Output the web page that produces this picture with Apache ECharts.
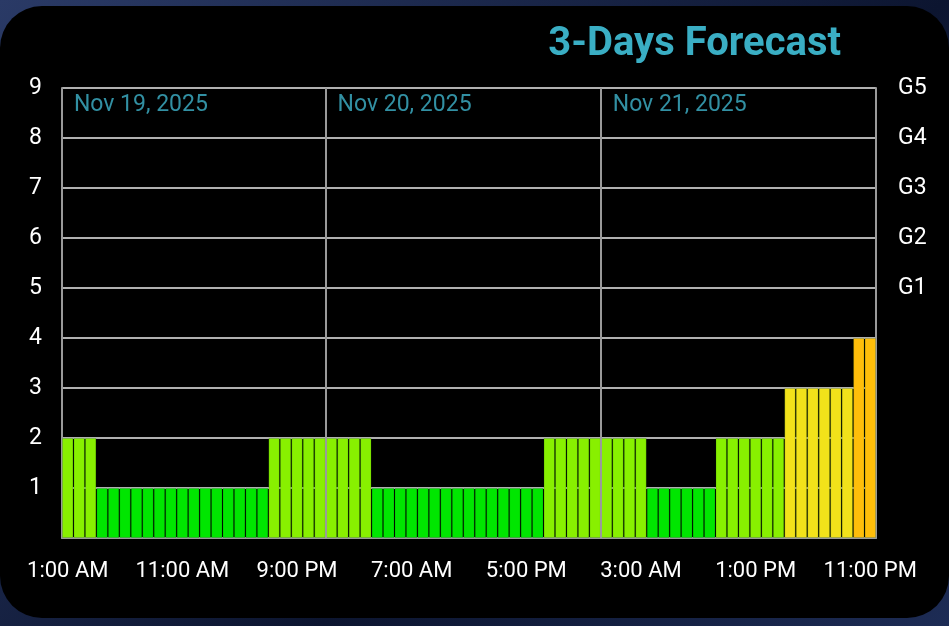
<!DOCTYPE html>
<html><head><meta charset="utf-8">
<script src="https://cdn.jsdelivr.net/npm/echarts@6/dist/echarts.min.js"></script>
<style>
html,body{margin:0;padding:0;width:949px;height:626px;background:linear-gradient(135deg,#2a3a66,#0c1530 60%,#1d2c55);overflow:hidden}
#panel{position:absolute;left:0;top:6px;width:949px;height:612px;background:#000;border-radius:42px}
#c{position:absolute;left:0;top:0;width:949px;height:626px}
</style></head><body>
<div id="panel"></div><div id="c"></div>
<script>
// hourly Kp from 1:00 AM Nov 19, 2025
const kp = [].concat(
  Array(3).fill(2), Array(15).fill(1), Array(5).fill(2),
  Array(4).fill(2), Array(15).fill(1), Array(5).fill(2),
  Array(4).fill(2), Array(6).fill(1), Array(6).fill(2), Array(6).fill(3), Array(2).fill(4)
);
const hourLabels = [];
for (let i = 0; i < kp.length; i++) {
  const h = (1 + i) % 24, h12 = h % 12 === 0 ? 12 : h % 12;
  hourLabels.push(h12 + ':00 ' + (h < 12 ? 'AM' : 'PM'));
}
const dayNames = ['Nov 19, 2025', 'Nov 20, 2025', 'Nov 21, 2025'];
const dayStarts = [0, 23, 47];
const gLabels = {5:'G1',6:'G2',7:'G3',8:'G4',9:'G5'};
const colors = {1:'#00e600',2:'#88f000',3:'#f2e21a',4:'#ffbe0a'};

const chart = echarts.init(document.getElementById('c'));
const grey = '#9a9a9a';
chart.setOption({
  animation:false,
  title:{text:'3-Days Forecast',right:103,top:20,textStyle:{color:'#3aaec4',fontSize:40,fontWeight:'bold',fontFamily:'Roboto'}},
  grid:{left:62,right:73,top:88,bottom:88},
  xAxis:[
    {type:'category',data:hourLabels,boundaryGap:true,
     axisLine:{lineStyle:{color:grey,width:2}},axisTick:{show:false},
     axisLabel:{interval:9,color:'#fff',fontSize:22,fontFamily:'Roboto',margin:22,letterSpacing:-1}},
    {type:'value',min:0,max:kp.length,show:false}
  ],
  yAxis:[
    {type:'value',min:0,max:9,interval:1,
     axisLine:{show:true,lineStyle:{color:grey,width:2}},axisTick:{show:false},
     splitLine:{lineStyle:{color:'#b0b0b0',width:2}},
     axisLabel:{color:'#fff',fontSize:23,fontFamily:'Roboto',margin:20,formatter:v=>v===0?'':v}},
    {type:'value',min:0,max:9,interval:1,position:'right',
     axisLine:{show:true,lineStyle:{color:grey,width:2}},axisTick:{show:false},splitLine:{show:false},
     axisLabel:{color:'#fff',fontSize:23,fontFamily:'Roboto',margin:22,formatter:v=>gLabels[v]||''}}
  ],
  series:[
    {type:'bar',barCategoryGap:'0%',
     data:kp.map(v=>({value:v,itemStyle:{color:colors[v]}})),
     itemStyle:{borderColor:'rgba(0,70,0,0.18)',borderWidth:1}},
    {type:'scatter',xAxisIndex:1,symbolSize:0,
     data:dayStarts.map((d,i)=>({value:[d+0.6,8.65],label:{formatter:dayNames[i]}})),
     label:{show:true,position:'right',color:'#3fb4cc',fontSize:23,fontFamily:'Roboto',letterSpacing:-0.5},
     markLine:{silent:true,symbol:'none',label:{show:false},lineStyle:{color:grey,width:2,type:'solid'},
       data:dayStarts.slice(1).map(d=>({xAxis:d}))}}
  ]
});
</script></body></html>
